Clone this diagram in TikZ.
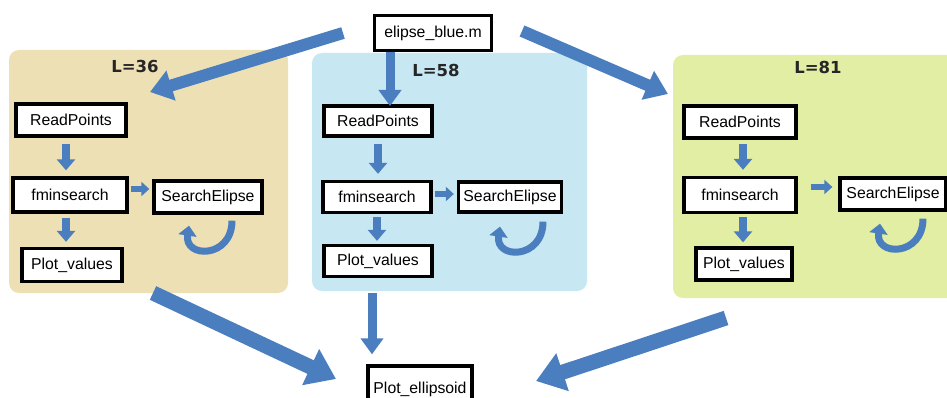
\documentclass[tikz,border=0pt]{standalone}
\usepackage{fontspec}
\setmainfont{Liberation Sans}
\newfontfamily\lblfont{DejaVu Sans}
\usetikzlibrary{arrows.meta,calc}
\definecolor{arrblue}{HTML}{4A7EBE}
\definecolor{tanbg}{HTML}{EDE0B5}
\definecolor{bluebg}{HTML}{C7E7F2}
\definecolor{limebg}{HTML}{E2EEA3}
\begin{document}
\begin{tikzpicture}[x=1pt,y=-1pt,
  box/.style={draw=black, line width=3.3pt, fill=white, font=\fontsize{15.8}{18}\selectfont, inner sep=1pt},
  panel/.style={rounded corners=10pt, draw=none},
  lbl/.style={font=\lblfont\bfseries\fontsize{16.5}{18}\selectfont, text=black!85},
  bigarr/.style={draw=arrblue, line width=12pt, -{Triangle[length=22pt,width=30pt]}},
  wideArr/.style={draw=arrblue, line width=15pt, -{Triangle[length=28pt,width=38pt]}},
  vertarr/.style={draw=arrblue, line width=9pt, -{Triangle[length=16pt,width=22pt]}},
  sarr/.style={draw=arrblue, line width=8pt, -{Triangle[length=11pt,width=18pt]}},
  harr/.style={draw=arrblue, line width=6pt, -{Triangle[length=8pt,width=14pt]}},
  uarr/.style={draw=arrblue, line width=7pt, -{Triangle[length=10pt,width=18pt]}}
]
\clip (0,0) rectangle (947,398);
\fill[white] (0,0) rectangle (947,398);

% panels
\fill[panel, tanbg] (9,50) rectangle (288,293);
\fill[panel, bluebg] (312,53) rectangle (587,291);
\fill[panel, limebg] (673,55) rectangle (965,298);

% labels
\node[lbl] (L1) at (135,66) {L=36};
\node[lbl] (L2) at (436,70) {L=58};
\node[lbl] (L3) at (818,67) {L=81};

% top node
\node[box, minimum width=117pt, minimum height=35pt] (EB) at (433,33) {elipse\_blue.m};

% left panel
\node[box, minimum width=110pt, minimum height=32pt] (RP1) at (71,120) {ReadPoints};
\node[box, minimum width=114pt, minimum height=34pt] (FM1) at (70,195) {fminsearch};
\node[box, minimum width=108pt, minimum height=32pt] (SE1) at (208,197) {SearchElipse};
\node[box, minimum width=100pt, minimum height=33pt] (PV1) at (72,265) {Plot\_values};

% middle panel
\node[box, minimum width=108pt, minimum height=30pt] (RP2) at (378,121) {ReadPoints};
\node[box, minimum width=108pt, minimum height=31pt] (FM2) at (377,197) {fminsearch};
\node[box, minimum width=103pt, minimum height=30pt] (SE2) at (510,197) {SearchElipse};
\node[box, minimum width=108pt, minimum height=31pt] (PV2) at (378,261) {Plot\_values};

% right panel
\node[box, minimum width=112pt, minimum height=32pt] (RP3) at (740,122) {ReadPoints};
\node[box, minimum width=112pt, minimum height=35pt] (FM3) at (740,195) {fminsearch};
\node[box, minimum width=106pt, minimum height=32pt] (SE3) at (893,194) {SearchElipse};
\node[box, minimum width=96pt, minimum height=32pt] (PV3) at (744,264) {Plot\_values};

% bottom node (bottom edge runs off the picture)
\node[box, minimum width=104pt, minimum height=44pt, text depth=0pt] (PE) at (420,388) {Plot\_ellipsoid\rule[-10pt]{0pt}{0pt}};

% small arrows, left
\draw[sarr, shorten <=6pt, shorten >=6pt] ([xshift=-5pt]RP1.south) -- ([xshift=-5pt]RP1.south |- FM1.north);
\draw[sarr, shorten <=4pt, shorten >=5pt] ([xshift=-4pt]FM1.south) -- ([xshift=-4pt]FM1.south |- PV1.north);
\draw[harr, shorten <=2pt, shorten >=3pt] ([yshift=6pt]FM1.east) -- ([yshift=6pt]FM1.east -| SE1.west);
\draw[uarr] ($(SE1.south)+(24,6)$) .. controls ($(SE1.south)+(24,44)$) and ($(SE1.south)+(-24,44)$) .. ($(SE1.south)+(-19,11)$);

% small arrows, middle
\draw[sarr, shorten <=6pt, shorten >=6pt] (RP2.south) -- (RP2.south |- FM2.north);
\draw[sarr, shorten <=3pt, shorten >=3pt] (FM2.south) -- (FM2.south |- PV2.north);
\draw[harr, shorten <=2pt, shorten >=3pt] ([yshift=3pt]FM2.east) -- ([yshift=3pt]FM2.east -| SE2.west);
\draw[uarr] ($(SE2.south)+(33,8)$) .. controls ($(SE2.south)+(33,46)$) and ($(SE2.south)+(-15,46)$) .. ($(SE2.south)+(-10,13)$);

% small arrows, right
\draw[sarr, shorten <=4pt, shorten >=6pt] ([xshift=3pt]RP3.south) -- ([xshift=3pt]RP3.south |- FM3.north);
\draw[sarr, shorten <=3pt, shorten >=4pt] ([xshift=3pt]FM3.south) -- ([xshift=3pt]FM3.south |- PV3.north);
\draw[harr, shorten <=13pt, shorten >=6pt] ([yshift=8pt]FM3.east) -- ([yshift=8pt]FM3.east -| SE3.west);
\draw[uarr] ($(SE3.south)+(30,7)$) .. controls ($(SE3.south)+(30,45)$) and ($(SE3.south)+(-18,45)$) .. ($(SE3.south)+(-13,12)$);

% big arrows from top node
\coordinate (tl0) at (343,33);
\coordinate (tl1) at (150,92);
\coordinate (tr0) at (522,31);
\coordinate (tr1) at (668,94);
\draw[bigarr] (tl0) -- (tl1);
\draw[bigarr] (tr0) -- (tr1);
\draw[vertarr] (EB.south -| 390,0) -- (390,106);

% big arrows to bottom node
\coordinate (bl0) at (153,293);
\coordinate (bl1) at (336,379);
\coordinate (br0) at (726,318);
\coordinate (br1) at (536,381);
\draw[wideArr] (bl0) -- (bl1);
\draw[wideArr] (br0) -- (br1);
\draw[vertarr, shorten >=10pt] (372,293) -- (PE.north -| 372,0);
\end{tikzpicture}
\end{document}
